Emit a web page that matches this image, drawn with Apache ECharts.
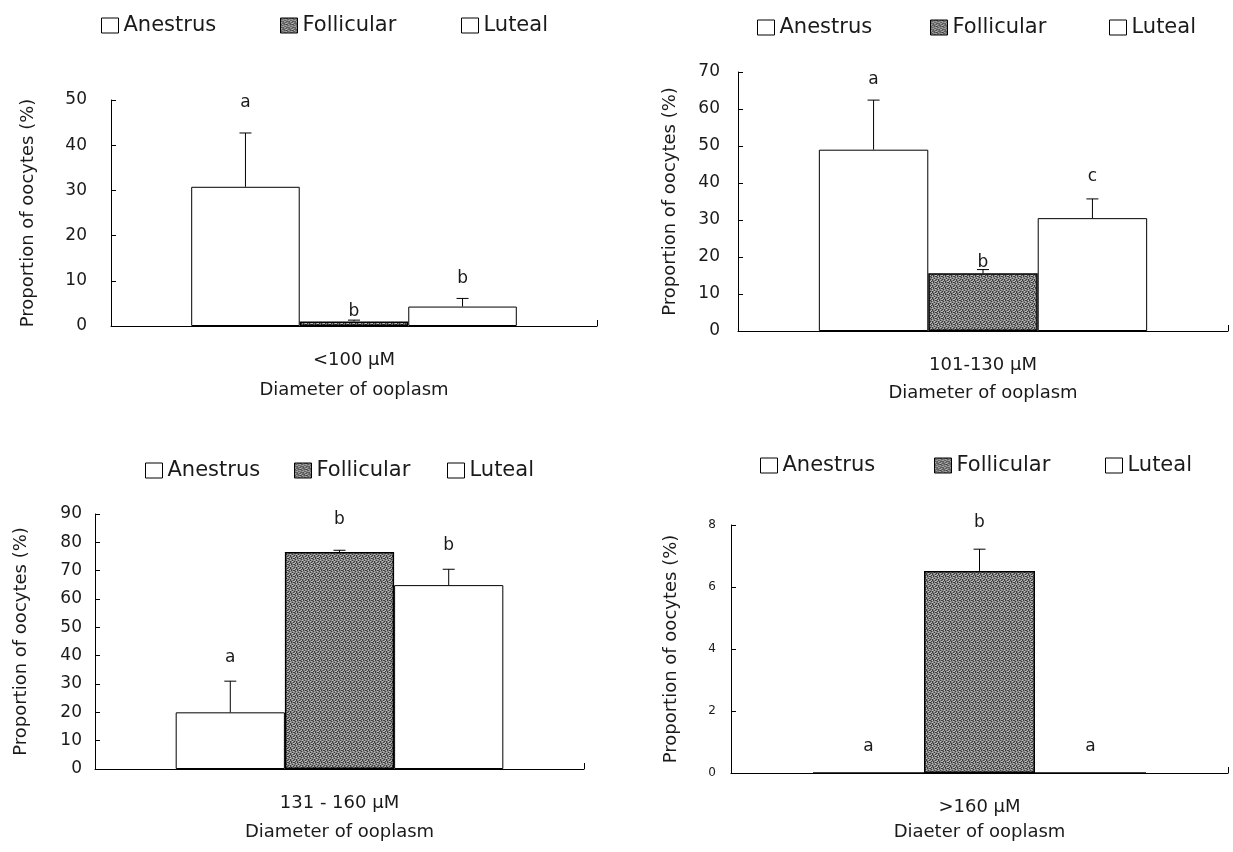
<!DOCTYPE html>
<html><head><meta charset="utf-8">
<script src="https://cdn.jsdelivr.net/npm/echarts@6/dist/echarts.min.js"></script>
<style>html,body{margin:0;padding:0;background:#fff}#c{width:1233px;height:852px}</style>
</head><body><div id="c"></div>
<script>
// ---- data ----
const categories = ['<100 μM', '101-130 μM', '131 - 160 μM', '>160 μM'];
const phases = ['Anestrus', 'Follicular', 'Luteal'];
const anestrusMean = [30.8, 49.0, 20.0, 0];
const follicularMean = [1.0, 15.6, 76.6, 6.52];
const lutealMean = [4.3, 30.5, 64.9, 0];
const anestrusErr = [11.9, 13.4, 11.0, 0];
const follicularErr = [0.3, 1.0, 0.6, 0.7];
const lutealErr = [1.8, 5.2, 5.6, 0];
const anestrusLetter = ['a', 'a', 'a', 'a'];
const follicularLetter = ['b', 'b', 'b', 'b'];
const lutealLetter = ['b', 'c', 'b', 'a'];
const anestrusLetterAt = [49.5, 67.9, 39.5, 0.86];
const follicularLetterAt = [3.1, 18.6, 88.0, 8.07];
const lutealLetterAt = [10.5, 41.8, 78.8, 0.86];
const yMax = [50, 70, 90, 8];
const yStep = [10, 10, 10, 2];
const xTitles = ['Diameter of ooplasm', 'Diameter of ooplasm', 'Diameter of ooplasm', 'Diaeter of ooplasm'];
const yTitle = 'Proportion of oocytes (%)';

const means = [anestrusMean, follicularMean, lutealMean];
const errs = [anestrusErr, follicularErr, lutealErr];
const letters = [anestrusLetter, follicularLetter, lutealLetter];
const letterAt = [anestrusLetterAt, follicularLetterAt, lutealLetterAt];

// ---- layout ----
const FONT = 'DejaVu Sans';
const TXT = '#1a1a1a';
const grids = [
  {left: 111, top: 100, width: 486, height: 226},
  {left: 738, top: 72, width: 490, height: 259},
  {left: 95, top: 514, width: 489, height: 255},
  {left: 731, top: 525, width: 497, height: 248}
];
const legendX = [[96, 275, 456], [752, 925, 1104], [140, 289, 442], [755, 929, 1100]];
const legendY = [10, 12, 455, 450];
const yNameGap = [74, 59, 65, 51];
const yLabelMargin = [24, 18, 13, 15];
const yLabelSize = [17, 17, 17, 12];
const xNameGap = [55, 53, 54, 50];
const GAP = 0.33;

function makePattern() {
  const c = document.createElement('canvas');
  c.width = 6; c.height = 6;
  const g = c.getContext('2d');
  g.fillStyle = '#858585'; g.fillRect(0, 0, 6, 6);
  g.fillStyle = '#3c3c3c';
  [[0,0],[3,0],[1,1],[4,2],[0,3],[2,3],[5,4],[1,5],[3,5],[5,0],[2,4]].forEach(p => g.fillRect(p[0], p[1], 1, 1));
  g.fillStyle = '#bdbdbd';
  [[2,0],[5,1],[2,2],[4,3],[1,4],[0,5],[5,5]].forEach(p => g.fillRect(p[0], p[1], 1, 1));
  return c;
}
const pattern = {image: makePattern(), repeat: 'repeat'};
const fills = ['#ffffff', pattern, '#ffffff'];

const option = {
  animation: false,
  backgroundColor: '#fff',
  grid: grids.map(g => Object.assign({containLabel: false}, g)),
  legend: [],
  xAxis: [],
  yAxis: [],
  series: []
};

for (let i = 0; i < 4; i++) {
  phases.forEach((p, k) => {
    option.legend.push({
      data: [p], left: legendX[i][k], top: legendY[i],
      icon: 'rect', itemWidth: 17, itemHeight: 15, itemGap: 5,
      selectedMode: false,
      itemStyle: {borderColor: '#000', borderWidth: 1},
      textStyle: {fontFamily: FONT, fontSize: 21, color: TXT}
    });
  });
  option.xAxis.push({
    type: 'category', gridIndex: i, data: [categories[i]],
    axisLine: {show: true, lineStyle: {color: '#000', width: 1}},
    axisTick: {show: true, inside: true, length: 6, alignWithLabel: false, lineStyle: {color: '#000'}},
    axisLabel: {margin: 25, fontFamily: FONT, fontSize: 18, color: TXT},
    name: xTitles[i], nameLocation: 'middle', nameGap: xNameGap[i],
    nameTextStyle: {fontFamily: FONT, fontSize: 18, color: TXT}
  });
  option.yAxis.push({
    type: 'value', gridIndex: i, min: 0, max: yMax[i], interval: yStep[i],
    axisLine: {show: true, lineStyle: {color: '#000', width: 1}},
    axisTick: {show: true, inside: true, length: 5, lineStyle: {color: '#000'}},
    splitLine: {show: false},
    axisLabel: {margin: yLabelMargin[i], fontFamily: FONT, fontSize: yLabelSize[i], color: TXT},
    name: yTitle, nameLocation: 'middle', nameGap: yNameGap[i],
    nameTextStyle: {fontFamily: FONT, fontSize: 18, color: TXT}
  });
  phases.forEach((p, k) => {
    option.series.push({
      type: 'bar', name: p, xAxisIndex: i, yAxisIndex: i,
      data: [means[k][i]], barGap: '0%', barCategoryGap: (GAP * 100) + '%',
      silent: true,
      itemStyle: {color: fills[k], borderColor: '#000', borderWidth: k === 1 ? 1.5 : 1}
    });
  });
  const panel = i;
  option.series.push({
    type: 'custom', xAxisIndex: i, yAxisIndex: i, z: 10, silent: true,
    data: phases.map((p, k) => [0, means[k][i], errs[k][i], letterAt[k][i], k]),
    encode: {x: 0, y: 1},
    renderItem: function (params, api) {
      const k = api.value(4);
      const base = api.coord([0, 0]);
      const catW = api.size([1, 0])[0];
      const barW = catW * (1 - GAP) / 3;
      const x = base[0] + (k - 1) * barW;
      const top = api.coord([0, api.value(1)])[1];
      const eTop = api.coord([0, api.value(1) + api.value(2)])[1];
      const ly = api.coord([0, api.value(3)])[1];
      const children = [];
      if (api.value(2) > 0) {
        children.push({type: 'line', shape: {x1: x, y1: top, x2: x, y2: eTop}, style: {stroke: '#000', lineWidth: 1}});
        children.push({type: 'line', shape: {x1: x - 6, y1: eTop, x2: x + 6, y2: eTop}, style: {stroke: '#000', lineWidth: 1}});
      }
      children.push({type: 'text', style: {text: letters[k][panel], x: x, y: ly, align: 'center', verticalAlign: 'middle', font: '17px "DejaVu Sans"', fill: TXT}});
      return {type: 'group', children: children};
    }
  });
}

const chart = echarts.init(document.getElementById('c'), null, {renderer: 'canvas'});
chart.setOption(option);
</script>
</body></html>
